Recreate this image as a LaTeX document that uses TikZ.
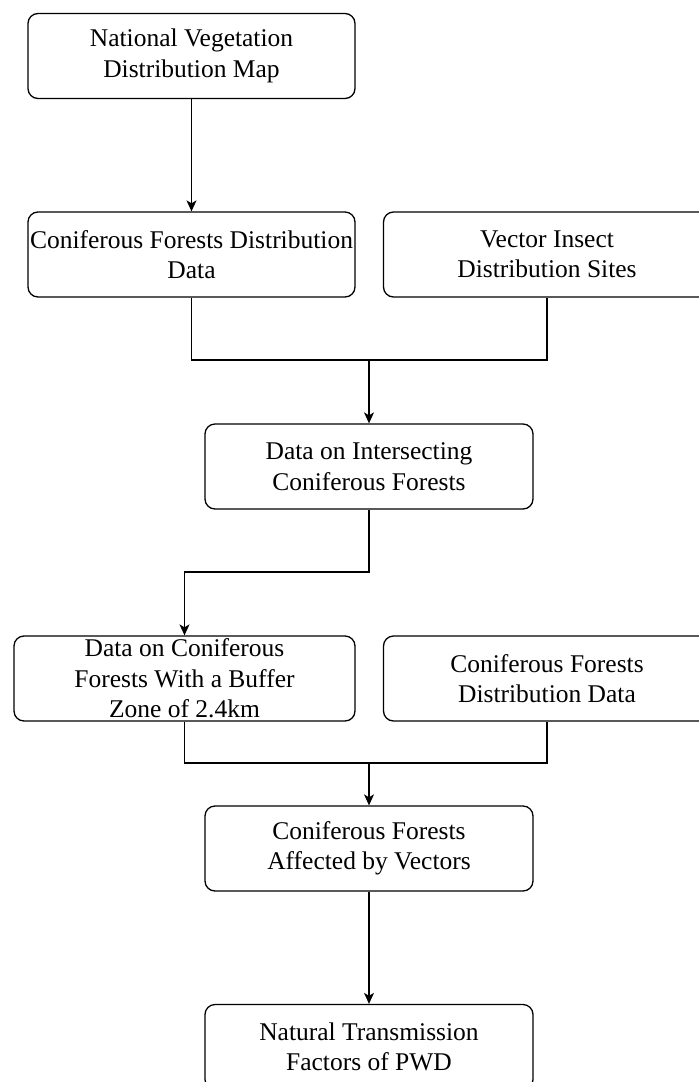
\documentclass[tikz,border=0pt]{standalone}
\usepackage{fontspec}
\setmainfont{Liberation Serif}
\usetikzlibrary{arrows.meta}
\tikzset{
  box/.style={draw, rounded corners=10pt, line width=1.3pt, minimum height=85pt, inner sep=0pt},
  txt/.style={align=center, font=\fontsize{25.5}{30.5}\selectfont, inner sep=0pt},
  flow/.style={line width=1.2pt},
  arr/.style={flow, -{Stealth[length=11pt,width=10pt,inset=3pt]}}
}
\newcommand{\bx}[5]{\node[box, minimum width=#4pt, label={[txt]center:{#5}}] (#1) at (#2,#3) {};}

\begin{document}
\begin{tikzpicture}[x=1pt,y=-1pt]
\useasboundingbox (0,0) rectangle (699,1082);
\clip (0,0) rectangle (699,1082);

% boxes
\bx{map}{191.5}{56}{327}{National Vegetation\\Distribution Map}
\bx{conif}{191.5}{254.5}{327}{Coniferous Forests Distribution\\Data}
\bx{insect}{547}{254.5}{327}{Vector Insect\\Distribution Sites}
\bx{inter}{369}{466.5}{328}{Data on Intersecting\\Coniferous Forests}
\bx{buffer}{184.5}{678.5}{341}{Data on Coniferous\\Forests With a Buffer\\Zone of 2.4km}
\bx{conifb}{547}{678.5}{327}{Coniferous Forests\\Distribution Data}
\bx{affect}{369}{848.5}{328}{Coniferous Forests\\Affected by Vectors}
\bx{pwd}{369}{1047}{328}{Natural Transmission\\Factors of PWD}

% joins
\coordinate (j1) at (369,360);
\coordinate (bend) at (369,572);
\coordinate (j2) at (369,763);

\draw[arr] (map) -- (conif);
\draw[flow] (conif.south) |- (j1) -| (insect.south);
\draw[arr] (j1) -- (inter);
\draw[arr] (inter.south) -- (bend) -| (buffer.north);
\draw[flow] (buffer.south) |- (j2) -| (conifb.south);
\draw[arr] (j2) -- (affect);
\draw[arr] (affect) -- (pwd);

\end{tikzpicture}
\end{document}
